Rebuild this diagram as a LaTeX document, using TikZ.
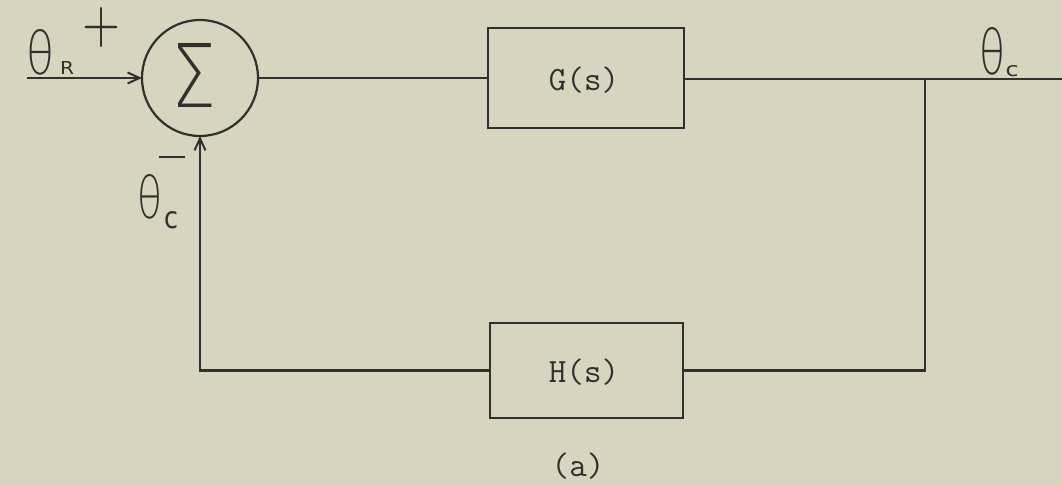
\documentclass[tikz,border=0pt]{standalone}
\usepackage{fontspec}
\usepackage{graphicx}
\newfontfamily\handfont{DejaVu Sans}
\newfontfamily\thinfont{DejaVu Sans ExtraLight}
\usetikzlibrary{arrows.meta}
\definecolor{paper}{RGB}{215,212,191}
\definecolor{ink}{RGB}{48,48,44}
% a glyph stretched to a given ink width and height (pt)
\newcommand\sized[3]{\resizebox{#1pt}{#2pt}{#3}}
\tikzset{
  wire/.style={draw=ink, line width=2.6pt},
  tip/.style={-{Straight Barb[length=12pt,width=11pt,line width=2pt]}},
  block/.style={draw=ink, line width=2.6pt, rectangle, inner sep=0pt, outer sep=0pt},
  summer/.style={draw=ink, line width=2.2pt, circle, minimum size=116pt, inner sep=0pt, outer sep=0pt},
  lbl/.style={inner sep=0pt, outer sep=0pt, text=ink},
  tt/.style={lbl, font=\fontsize{34}{34}\selectfont\ttfamily},
}
\begin{document}
\begin{tikzpicture}[x=1pt, y=-1pt]
  \fill[paper] (0,0) rectangle (1062,486);
  \useasboundingbox (0,0) rectangle (1062,486);

  % blocks
  \node[summer] (sum) at (200,78) {};
  \node[lbl] (sigma) at (194.5,75) {\sized{45}{64}{\thinfont Σ}};
  \node[block, minimum width=196pt, minimum height=100pt] (G) at (586,78) {};
  \node[tt] (Gt) at (584,80) {G(s)};
  \node[block, minimum width=193pt, minimum height=95pt] (H) at (586.5,370.5) {};
  \node[tt] (Ht) at (584,372) {H(s)};

  % free ends and corners
  \coordinate (in) at (27,78);
  \coordinate (branch) at (925,79);
  \coordinate (out) at (1062,79);

  % signal path
  \draw[wire, tip] (in) -- (sum.west);
  \draw[wire] (sum.east) -- (G.west);
  \draw[wire] (G.east |- branch) -- (out);
  \draw[wire] (branch) |- (H.east);
  \draw[wire, tip] (H.west) -| (sum.south);

  % signal labels
  \node[lbl] (thR) at (41,52.5) {\sized{28}{45}{\thinfont θ}};
  \node[lbl] (thRs) at (67,68.5) {\sized{14}{13}{\handfont R}};
  \node[lbl] (plus) at (101,28) {\sized{38}{35}{$+$}};
  \node[lbl] (minus) at (172,157) {\sized{26}{2.5}{\rule{10pt}{1pt}}};
  \node[lbl] (thC) at (150,197) {\sized{25}{44}{\thinfont θ}};
  \node[lbl] (thCs) at (171,220) {\sized{14}{17}{\handfont c}};
  \node[lbl] (thO) at (992,51.5) {\sized{26}{47}{\thinfont θ}};
  \node[lbl] (thOs) at (1012,71) {\sized{13}{11}{\handfont c}};

  % caption
  \node[tt] (cap) at (578,466) {(a)};
\end{tikzpicture}
\end{document}
